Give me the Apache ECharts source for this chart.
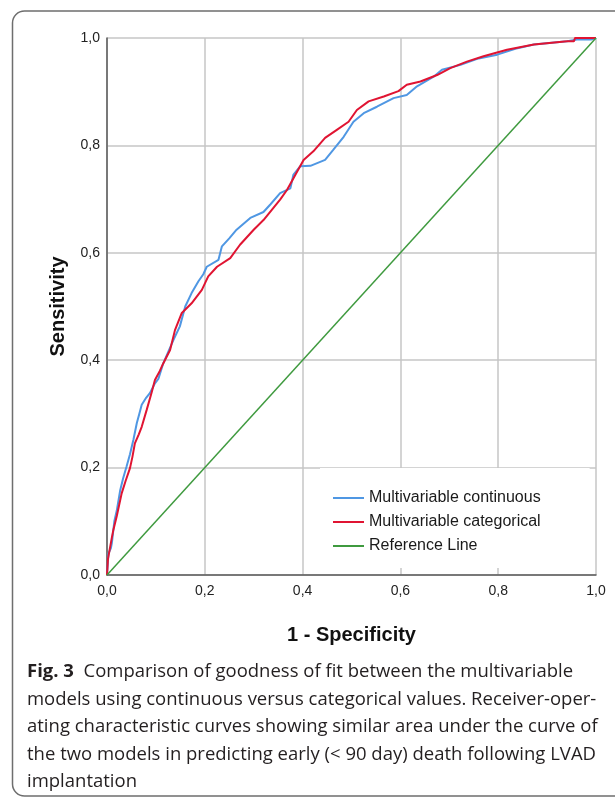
<!DOCTYPE html>
<html lang="en">
<head>
    <meta charset="UTF-8">
    <title>ROC curves</title>
    <script src="https://cdn.jsdelivr.net/npm/echarts@6/dist/echarts.min.js"></script>
    <style>
        html, body { margin: 0; padding: 0; background: #fff; }
        #main { width: 615px; height: 799px; }
    </style>
</head>
<body>
<div id="main"></div>
<script>
    // 1 - specificity / sensitivity
    var contX = [0, 0.003, 0.008, 0.010, 0.015, 0.020, 0.027, 0.033, 0.040, 0.047, 0.054, 0.061, 0.066, 0.071, 0.080,
        0.088, 0.098, 0.105, 0.115, 0.125, 0.136, 0.149, 0.160, 0.173, 0.187, 0.197, 0.204, 0.228, 0.235, 0.250,
        0.265, 0.293, 0.320, 0.334, 0.354, 0.375, 0.381, 0.395, 0.416, 0.446, 0.463, 0.484, 0.504, 0.525, 0.552,
        0.586, 0.613, 0.634, 0.668, 0.685, 0.723, 0.760, 0.798, 0.835, 0.873, 0.941, 0.961, 0.990, 1.0];
    var contY = [0, 0.040, 0.050, 0.060, 0.100, 0.120, 0.158, 0.180, 0.202, 0.225, 0.252, 0.283, 0.300, 0.317, 0.330,
        0.339, 0.357, 0.365, 0.394, 0.415, 0.438, 0.463, 0.500, 0.525, 0.547, 0.560, 0.574, 0.587, 0.612, 0.627,
        0.643, 0.665, 0.676, 0.690, 0.711, 0.720, 0.745, 0.761, 0.762, 0.773, 0.792, 0.816, 0.844, 0.860, 0.872,
        0.888, 0.894, 0.910, 0.928, 0.941, 0.950, 0.962, 0.969, 0.980, 0.988, 0.994, 0.997, 0.997, 1.0];

    var catX = [0, 0.002, 0.005, 0.010, 0.013, 0.020, 0.030, 0.038, 0.047, 0.052, 0.057, 0.065, 0.071, 0.081, 0.091,
        0.098, 0.108, 0.115, 0.129, 0.139, 0.153, 0.173, 0.194, 0.207, 0.225, 0.252, 0.272, 0.300, 0.320, 0.354,
        0.368, 0.385, 0.402, 0.422, 0.446, 0.470, 0.494, 0.511, 0.535, 0.566, 0.596, 0.613, 0.641, 0.675, 0.702,
        0.736, 0.770, 0.818, 0.873, 0.941, 0.955, 0.957, 1.0];
    var catY = [0, 0.030, 0.045, 0.070, 0.084, 0.110, 0.152, 0.175, 0.199, 0.220, 0.245, 0.262, 0.276, 0.307, 0.339,
        0.363, 0.380, 0.394, 0.419, 0.456, 0.488, 0.506, 0.531, 0.556, 0.574, 0.590, 0.615, 0.643, 0.661, 0.699,
        0.717, 0.745, 0.773, 0.789, 0.814, 0.829, 0.844, 0.866, 0.882, 0.891, 0.901, 0.913, 0.919, 0.931, 0.944,
        0.956, 0.966, 0.978, 0.988, 0.994, 0.994, 1.0, 1.0];

    var refX = [0, 1];
    var refY = [0, 1];

    var seriesNames = ['Multivariable continuous', 'Multivariable categorical', 'Reference Line'];
    var tickValues = [0, 0.2, 0.4, 0.6, 0.8, 1.0];

    var captionLines = [
        'Comparison of goodness of fit between the multivariable',
        'models using continuous versus categorical values. Receiver-oper-',
        'ating characteristic curves showing similar area under the curve of',
        'the two models in predicting early (< 90 day) death following LVAD',
        'implantation'
    ];

    function zip(xs, ys) {
        return xs.map(function (x, i) { return [x, ys[i]]; });
    }

    function tickLabel(v) {
        return v.toFixed(1).replace('.', ',');
    }

    // caption: squeeze the font a bit so the widest line fits like the original
    var capFont = '18px "Open Sans"';
    var ctx = document.createElement('canvas').getContext('2d');
    ctx.font = capFont;
    var capScale = (596 - 27) / ctx.measureText(captionLines[3]).width;

    var capGraphics = captionLines.map(function (line, i) {
        return {
            type: 'text',
            x: 27,
            y: 672 + i * 27.5,
            scaleX: capScale,
            style: {
                text: i === 0 ? '{b|Fig. 3}  ' + line : line,
                fill: '#231f20',
                font: capFont,
                verticalAlign: 'middle',
                rich: {
                    b: { fontFamily: 'Open Sans', fontSize: 18, fontWeight: 'bold', fill: '#231f20' }
                }
            }
        };
    });

    var myChart = echarts.init(document.getElementById('main'));

    var axisCommon = {
        type: 'value',
        min: 0,
        max: 1,
        interval: 0.2,
        nameLocation: 'middle',
        nameTextStyle: { fontFamily: 'Liberation Sans', fontSize: 20, fontWeight: 'bold', color: '#111', lineHeight: 20 },
        axisLine: { show: true, lineStyle: { color: '#5a5a5a', width: 1.5 } },
        axisTick: { show: false },
        axisLabel: { fontFamily: 'Liberation Sans', fontSize: 14, color: '#222', formatter: tickLabel },
        splitLine: { show: true, lineStyle: { color: '#c6c6c6', width: 1.5 } }
    };

    var option = {
        animation: false,
        backgroundColor: '#fff',
        grid: { left: 107, right: 19, top: 38, bottom: 224 },
        xAxis: Object.assign({}, axisCommon, {
            name: '1 - Specificity',
            nameGap: 50,
            axisLabel: Object.assign({}, axisCommon.axisLabel, { margin: 9 })
        }),
        yAxis: Object.assign({}, axisCommon, {
            name: 'Sensitivity',
            nameGap: 39,
            axisLabel: Object.assign({}, axisCommon.axisLabel, { margin: 7 })
        }),
        legend: {
            data: seriesNames,
            orient: 'vertical',
            left: 320,
            top: 468,
            padding: [22, 49, 14, 13],
            backgroundColor: '#fff',
            icon: 'rect',
            itemWidth: 31,
            itemHeight: 2,
            itemGap: 8,
            textStyle: { fontFamily: 'Liberation Sans', fontSize: 16, lineHeight: 16, color: '#1a1a1a' }
        },
        series: [
            {
                name: seriesNames[0],
                type: 'line',
                symbol: 'none',
                data: zip(contX, contY),
                lineStyle: { color: '#4f97e3', width: 2 },
                itemStyle: { color: '#4f97e3' }
            },
            {
                name: seriesNames[1],
                type: 'line',
                symbol: 'none',
                data: zip(catX, catY),
                lineStyle: { color: '#e01432', width: 2 },
                itemStyle: { color: '#e01432' }
            },
            {
                name: seriesNames[2],
                type: 'line',
                symbol: 'none',
                data: zip(refX, refY),
                lineStyle: { color: '#3f9a3f', width: 1.5 },
                itemStyle: { color: '#3f9a3f' }
            }
        ],
        graphic: [
            {
                type: 'rect',
                shape: { x: 12.5, y: 11, width: 800, height: 785, r: 12 },
                style: { fill: null, stroke: '#6e6e6e', lineWidth: 1.5 },
                silent: true
            }
        ].concat(capGraphics)
    };

    myChart.setOption(option);
</script>
</body>
</html>
